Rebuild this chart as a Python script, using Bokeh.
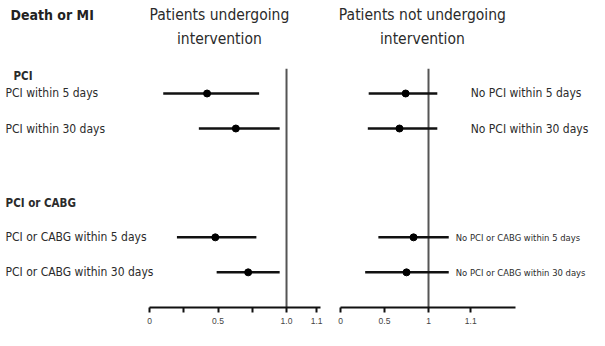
from bokeh.plotting import figure
from bokeh.models import Range1d, FixedTicker
from bokeh.layouts import row
from bokeh.embed import file_html
from bokeh.resources import INLINE
from bokeh.core.properties import value

# ---- data ----
left_labels = ["PCI within 5 days", "PCI within 30 days",
               "PCI or CABG within 5 days", "PCI or CABG within 30 days"]
left_est = [0.42, 0.63, 0.48, 0.72]
left_lo = [0.10, 0.36, 0.20, 0.49]
left_hi = [0.80, 0.95, 0.78, 0.95]

right_labels = ["No PCI within 5 days", "No PCI within 30 days",
                "No PCI or CABG within 5 days", "No PCI or CABG within 30 days"]
right_est = [0.74, 0.67, 0.83, 0.75]
right_lo = [0.32, 0.31, 0.43, 0.28]
right_hi = [1.10, 1.10, 1.23, 1.23]

row_pos = [0, 1, 4.11, 5.11]
group_labels = ["PCI", "PCI or CABG"]
group_pos = [-0.51, 3.14]

left_ticks = [0, 0.25, 0.5, 0.75, 1.0, 1.22]
left_tick_labels = ["0", "", "0.5", "", "1.0", "1.1"]
right_ticks = [0, 0.5, 1.0, 1.48]
right_tick_labels = ["0", "0.5", "1", "1.1"]

FONT = value("'Liberation Sans Narrow', 'DejaVu Sans Condensed', 'Liberation Sans', sans-serif")
TXT = "#2b2b2b"
H = 330
YR = (6.114, -2.657)


def base(width, xs, xe):
    p = figure(width=width, height=H, output_backend="svg", toolbar_location=None,
               x_range=Range1d(xs, xe), y_range=Range1d(*YR),
               min_border_left=0, min_border_right=0, min_border_top=0,
               min_border_bottom=23)
    p.outline_line_color = None
    p.xgrid.visible = False
    p.ygrid.visible = False
    p.yaxis.visible = False
    p.background_fill_color = "white"
    p.border_fill_color = "white"
    ax = p.xaxis[0]
    ax.axis_line_width = 2
    ax.axis_line_color = "#111111"
    ax.major_tick_line_color = "#111111"
    ax.major_tick_line_width = 2
    ax.major_tick_in = 0
    ax.major_tick_out = 5
    ax.minor_tick_line_color = None
    ax.major_label_text_font_size = "8.5px"
    ax.major_label_text_color = "#444444"
    ax.major_label_standoff = 5
    ax.major_label_text_font = "Liberation Sans"
    return p


# ---- left panel ----
pl = base(333, -1.088, 1.343)
pl.xaxis[0].bounds = (0, 1.25)
pl.xaxis[0].ticker = FixedTicker(ticks=left_ticks)
pl.xaxis[0].major_label_overrides = {t: l for t, l in zip(left_ticks, left_tick_labels)}

pl.segment(x0=[1.0], y0=[-0.71], x1=[1.0], y1=[YR[0]], line_color="#555555", line_width=2)
pl.segment(x0=left_lo, y0=row_pos, x1=left_hi, y1=row_pos, line_color="#111111", line_width=2.5)
pl.scatter(x=left_est, y=row_pos, size=7, color="#000000")

pl.text(x=[-1.051] * 4, y=row_pos, text=left_labels, text_font=FONT,
        text_font_size="12px", text_color=TXT, text_baseline="middle")
pl.text(x=[-0.993, -1.051], y=group_pos, text=group_labels, text_font=FONT,
        text_font_size="11.5px", text_font_style="bold", text_color=TXT, text_baseline="middle")
pl.text(x=[-1.015], y=[-2.23], text=["Death or MI"], text_font=FONT,
        text_font_size="14px", text_font_style="bold", text_color="#222222", text_baseline="middle")
pl.text(x=[0.51, 0.51], y=[-2.23, -1.57], text=["Patients undergoing", "intervention"],
        text_font=FONT, text_font_size="15.5px", text_color=TXT,
        text_align="center", text_baseline="middle")

# ---- right panel ----
pr = base(256, -0.08, 2.83)
pr.xaxis[0].bounds = (0, 1.99)
pr.xaxis[0].ticker = FixedTicker(ticks=right_ticks)
pr.xaxis[0].major_label_overrides = {t: l for t, l in zip(right_ticks, right_tick_labels)}

pr.segment(x0=[1.0], y0=[-0.71], x1=[1.0], y1=[YR[0]], line_color="#555555", line_width=2)
pr.segment(x0=right_lo, y0=row_pos, x1=right_hi, y1=row_pos, line_color="#111111", line_width=2.5)
pr.scatter(x=right_est, y=row_pos, size=7, color="#000000")

pr.text(x=[1.48, 1.48], y=row_pos[:2], text=right_labels[:2], text_font=FONT,
        text_font_size="12px", text_color=TXT, text_baseline="middle")
pr.text(x=[1.31, 1.31], y=row_pos[2:], text=right_labels[2:], text_font=FONT,
        text_font_size="9.4px", text_color=TXT, text_baseline="middle")
pr.text(x=[0.93, 0.93], y=[-2.23, -1.57], text=["Patients not undergoing", "intervention"],
        text_font=FONT, text_font_size="15.5px", text_color=TXT,
        text_align="center", text_baseline="middle")

layout = row(pl, pr)
open("out.html", "w").write(file_html(layout, INLINE))
